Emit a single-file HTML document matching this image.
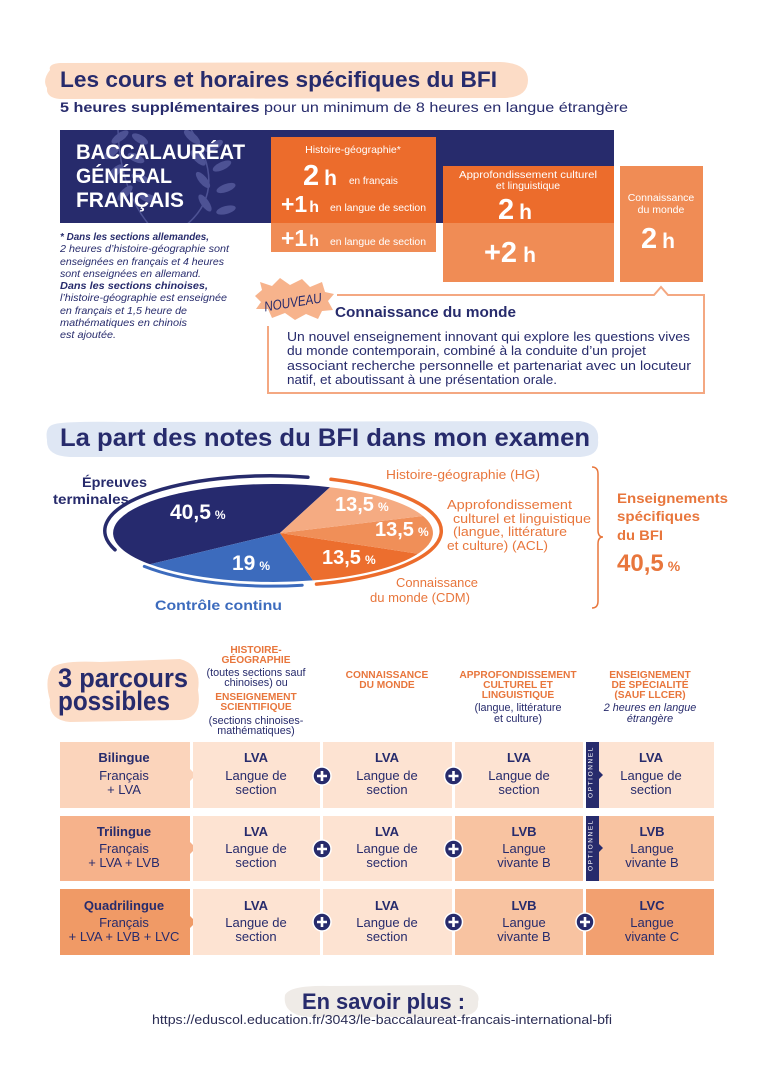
<!DOCTYPE html>
<html><head><meta charset="utf-8"><style>
html,body{margin:0;padding:0;background:#fff;}
svg{display:block;}
text{font-family:"Liberation Sans",sans-serif;}
</style></head><body>
<svg width="764" height="1080" viewBox="0 0 764 1080" xmlns="http://www.w3.org/2000/svg">
<defs>
<clipPath id="band"><rect x="60" y="130" width="554" height="93"/></clipPath>
</defs>
<rect width="764" height="1080" fill="#fff"/>

<!-- SECTION 1 -->
<path d="M50,70 Q48,64 60,63 L500,62 Q528,63 528,80 Q528,97 505,98 L60,99 Q46,98 47,88 Q42,80 50,70 Z" fill="#fcdcc6"/>
<text x="60" y="87" font-size="22" font-weight="bold" fill="#272b6c" textLength="437" lengthAdjust="spacingAndGlyphs">Les cours et horaires spécifiques du BFI</text>
<text x="60" y="112" font-size="14" fill="#272b6c" textLength="568" lengthAdjust="spacingAndGlyphs"><tspan font-weight="bold">5 heures supplémentaires</tspan> pour un minimum de 8 heures en langue étrangère</text>

<rect x="60" y="130" width="554" height="93" fill="#272b6c"/>
<g clip-path="url(#band)" fill="#5a5fa2" opacity="0.75">
<path d="M150,226 Q120,190 118,130" stroke="#5a5fa2" stroke-width="1.5" fill="none"/>
<ellipse cx="120" cy="137" rx="10" ry="4" transform="rotate(-35 120 137)"/>
<ellipse cx="140" cy="139" rx="9" ry="4" transform="rotate(30 140 139)"/>
<ellipse cx="112" cy="152" rx="10" ry="4" transform="rotate(-40 112 152)"/>
<ellipse cx="136" cy="158" rx="9" ry="4" transform="rotate(25 136 158)"/>
<ellipse cx="115" cy="172" rx="10" ry="4" transform="rotate(-45 115 172)"/>
<ellipse cx="140" cy="178" rx="9" ry="4" transform="rotate(20 140 178)"/>
<ellipse cx="125" cy="193" rx="10" ry="4" transform="rotate(-45 125 193)"/>
<ellipse cx="148" cy="198" rx="9" ry="4" transform="rotate(15 148 198)"/>
<path d="M185,226 Q230,190 190,128" stroke="#5a5fa2" stroke-width="1.5" fill="none"/>
<ellipse cx="192" cy="137" rx="10" ry="4" transform="rotate(40 192 137)"/>
<ellipse cx="214" cy="146" rx="10" ry="4" transform="rotate(-30 214 146)"/>
<ellipse cx="198" cy="158" rx="10" ry="4" transform="rotate(45 198 158)"/>
<ellipse cx="222" cy="166" rx="10" ry="4" transform="rotate(-25 222 166)"/>
<ellipse cx="203" cy="180" rx="10" ry="4" transform="rotate(50 203 180)"/>
<ellipse cx="226" cy="188" rx="10" ry="4" transform="rotate(-20 226 188)"/>
<ellipse cx="205" cy="203" rx="10" ry="4" transform="rotate(55 205 203)"/>
<ellipse cx="226" cy="210" rx="10" ry="4" transform="rotate(-15 226 210)"/>
</g>
<text x="76" y="159" font-size="21" font-weight="bold" fill="#fff" textLength="169" lengthAdjust="spacingAndGlyphs">BACCALAURÉAT</text>
<text x="76" y="183" font-size="21" font-weight="bold" fill="#fff" textLength="96" lengthAdjust="spacingAndGlyphs">GÉNÉRAL</text>
<text x="76" y="207" font-size="21" font-weight="bold" fill="#fff" textLength="108" lengthAdjust="spacingAndGlyphs">FRANÇAIS</text>

<!-- footnote -->
<g font-size="10.5" font-style="italic" fill="#272b6c">
<text x="60" y="240" font-weight="bold" textLength="149" lengthAdjust="spacingAndGlyphs">* Dans les sections allemandes,</text>
<text x="60" y="252" textLength="169" lengthAdjust="spacingAndGlyphs">2 heures d’histoire-géographie sont</text>
<text x="60" y="265" textLength="164" lengthAdjust="spacingAndGlyphs">enseignées en français et 4 heures</text>
<text x="60" y="277" textLength="141" lengthAdjust="spacingAndGlyphs">sont enseignées en allemand.</text>
<text x="60" y="289" font-weight="bold" textLength="148" lengthAdjust="spacingAndGlyphs">Dans les sections chinoises,</text>
<text x="60" y="301" textLength="167" lengthAdjust="spacingAndGlyphs">l’histoire-géographie est enseignée</text>
<text x="60" y="314" textLength="127" lengthAdjust="spacingAndGlyphs">en français et 1,5 heure de</text>
<text x="60" y="326" textLength="127" lengthAdjust="spacingAndGlyphs">mathématiques en chinois</text>
<text x="60" y="338" textLength="56" lengthAdjust="spacingAndGlyphs">est ajoutée.</text>
</g>

<!-- HG box -->
<rect x="271" y="137" width="165" height="86" fill="#ec6c2c"/>
<rect x="271" y="223" width="165" height="29" fill="#f08c55"/>
<text x="353" y="153" font-size="10.5" fill="#fff" text-anchor="middle">Histoire-géographie*</text>
<text x="303" y="185" font-weight="bold" fill="#fff"><tspan font-size="29">2</tspan><tspan font-size="21" dx="5">h</tspan></text>
<text x="349" y="184" font-size="10" fill="#fff">en français</text>
<text x="281" y="212" font-weight="bold" fill="#fff"><tspan font-size="23">+1</tspan><tspan font-size="16" dx="2">h</tspan></text>
<text x="330" y="211" font-size="10" fill="#fff" textLength="96" lengthAdjust="spacingAndGlyphs">en langue de section</text>
<text x="281" y="246" font-weight="bold" fill="#fff"><tspan font-size="23">+1</tspan><tspan font-size="16" dx="2">h</tspan></text>
<text x="330" y="245" font-size="10" fill="#fff" textLength="96" lengthAdjust="spacingAndGlyphs">en langue de section</text>

<!-- ACL box -->
<rect x="443" y="166" width="171" height="57" fill="#ec6c2c"/>
<rect x="443" y="223" width="171" height="59" fill="#f08c55"/>
<text x="528" y="178" font-size="10.5" fill="#fff" text-anchor="middle" textLength="138" lengthAdjust="spacingAndGlyphs">Approfondissement culturel</text>
<text x="528" y="189" font-size="10.5" fill="#fff" text-anchor="middle">et linguistique</text>
<text x="498" y="219" font-weight="bold" fill="#fff"><tspan font-size="29">2</tspan><tspan font-size="21" dx="5">h</tspan></text>
<text x="484" y="262" font-weight="bold" fill="#fff"><tspan font-size="29">+2</tspan><tspan font-size="21" dx="6">h</tspan></text>

<!-- CDM box -->
<rect x="620" y="166" width="83" height="116" fill="#f08c55"/>
<text x="661" y="201" font-size="10.5" fill="#fff" text-anchor="middle">Connaissance</text>
<text x="661" y="213" font-size="10.5" fill="#fff" text-anchor="middle">du monde</text>
<text x="641" y="248" font-weight="bold" fill="#fff"><tspan font-size="29">2</tspan><tspan font-size="21" dx="5">h</tspan></text>

<!-- callout -->
<path d="M337,295 L654,295 L661,287 L668,295 L704,295 L704,393 L268,393 L268,326" fill="none" stroke="#f4a882" stroke-width="2"/>
<path d="M255,296 L262,290 L260,282 L272,286 L280,278 L290,285 L302,279 L310,287 L322,282 L325,292 L334,294 L328,301 L333,310 L322,311 L318,319 L306,314 L295,320 L285,313 L272,318 L268,309 L256,309 L261,302 Z" fill="#f7b38c"/>
<text x="293" y="307" font-size="14" font-style="italic" fill="#272b6c" text-anchor="middle" textLength="58" lengthAdjust="spacingAndGlyphs" transform="rotate(-9 293 303)">NOUVEAU</text>
<text x="335" y="317" font-size="14.5" font-weight="bold" fill="#272b6c" textLength="181" lengthAdjust="spacingAndGlyphs">Connaissance du monde</text>
<g font-size="13" fill="#272b6c">
<text x="287" y="341" textLength="403" lengthAdjust="spacingAndGlyphs">Un nouvel enseignement innovant qui explore les questions vives</text>
<text x="287" y="355" textLength="359" lengthAdjust="spacingAndGlyphs">du monde contemporain, combiné à la conduite d’un projet</text>
<text x="287" y="370" textLength="404" lengthAdjust="spacingAndGlyphs">associant recherche personnelle et partenariat avec un locuteur</text>
<text x="287" y="384" textLength="270" lengthAdjust="spacingAndGlyphs">natif, et aboutissant à une présentation orale.</text>
</g>

<!-- SECTION 2 -->
<path d="M52,425 Q60,421 120,422 L580,421 Q600,424 598,440 Q600,456 580,457 L70,457 Q46,456 47,440 Q45,428 52,425 Z" fill="#dfe7f4"/>
<text x="60" y="446" font-size="25" font-weight="bold" fill="#272b6c" textLength="530" lengthAdjust="spacingAndGlyphs">La part des notes du BFI dans mon examen</text>

<text x="82" y="487" font-size="14" font-weight="bold" fill="#272b6c" textLength="65" lengthAdjust="spacingAndGlyphs">Épreuves</text>
<text x="53" y="504" font-size="14" font-weight="bold" fill="#272b6c" textLength="76" lengthAdjust="spacingAndGlyphs">terminales</text>

<!-- outer arcs -->
<path d="M115,549.8 A166,55 0 0 1 307.9,477.2" fill="none" stroke="#272b6c" stroke-width="3.5" stroke-linecap="round"/>
<path d="M331,479.3 A168,55 0 0 1 316.5,584.1" fill="none" stroke="#ec6c2c" stroke-width="3.5" stroke-linecap="round"/>
<path d="M144.3,566.4 A166,55 0 0 0 302.2,585.2" fill="none" stroke="#3c6bbd" stroke-width="3" stroke-linecap="round"/>

<!-- pie -->
<path d="M280,533 L330,487.2 A160,49 0 0 0 150,564.3 Z" fill="#262a6e"/>
<path d="M280,533 L150,564.3 A160,49 0 0 0 313,580.4 Z" fill="#3c6bbd"/>
<path d="M280,533 L313,580.4 A160,49 0 0 0 418,553.7 Z" fill="#ec6e2e"/>
<path d="M280,533 L418,553.7 A160,49 0 0 0 423,516 Z" fill="#f08f58"/>
<path d="M280,533 L423,516 A160,49 0 0 0 330,487.2 Z" fill="#f5ab82"/>

<g font-weight="bold" fill="#fff">
<text x="170" y="519"><tspan font-size="21">40,5</tspan><tspan font-size="12" dx="4">%</tspan></text>
<text x="232" y="570"><tspan font-size="21">19</tspan><tspan font-size="12" dx="4">%</tspan></text>
<text x="335" y="511"><tspan font-size="20">13,5</tspan><tspan font-size="12" dx="4">%</tspan></text>
<text x="375" y="536"><tspan font-size="20">13,5</tspan><tspan font-size="12" dx="4">%</tspan></text>
<text x="322" y="564"><tspan font-size="20">13,5</tspan><tspan font-size="12" dx="4">%</tspan></text>
</g>
<text x="155" y="610" font-size="14" font-weight="bold" fill="#3c6bbd" textLength="127" lengthAdjust="spacingAndGlyphs">Contrôle continu</text>

<g font-size="12.5" fill="#e8763c">
<text x="386" y="479" textLength="154" lengthAdjust="spacingAndGlyphs">Histoire-géographie (HG)</text>
<text x="447" y="509" textLength="125" lengthAdjust="spacingAndGlyphs">Approfondissement</text>
<text x="453" y="523" textLength="138" lengthAdjust="spacingAndGlyphs">culturel et linguistique</text>
<text x="453" y="536" textLength="114" lengthAdjust="spacingAndGlyphs">(langue, littérature</text>
<text x="447" y="550" textLength="101" lengthAdjust="spacingAndGlyphs">et culture) (ACL)</text>
<text x="396" y="587" textLength="82" lengthAdjust="spacingAndGlyphs">Connaissance</text>
<text x="370" y="602" textLength="100" lengthAdjust="spacingAndGlyphs">du monde (CDM)</text>
</g>
<path d="M592,467 Q598,467 598,474 L598,530 Q598,537 603,537 Q598,537 598,544 L598,601 Q598,608 592,608" fill="none" stroke="#e8763c" stroke-width="1.5"/>
<g font-weight="bold" fill="#e8763c">
<text x="617" y="503" font-size="14" textLength="111" lengthAdjust="spacingAndGlyphs">Enseignements</text>
<text x="617" y="521" font-size="14" textLength="83" lengthAdjust="spacingAndGlyphs">spécifiques</text>
<text x="617" y="540" font-size="14" textLength="46" lengthAdjust="spacingAndGlyphs">du BFI</text>
<text x="617" y="571"><tspan font-size="24">40,5</tspan><tspan font-size="14" dx="4">%</tspan></text>
</g>

<!-- SECTION 3 -->
<path d="M52,668 Q60,660 100,662 L180,659 Q202,665 198,690 Q203,718 180,720 L70,722 Q48,720 50,700 Q44,680 52,668 Z" fill="#fcdcc6"/>
<text x="58" y="687" font-size="27" font-weight="bold" fill="#272b6c" textLength="130" lengthAdjust="spacingAndGlyphs">3 parcours</text>
<text x="58" y="710" font-size="27" font-weight="bold" fill="#272b6c" textLength="112" lengthAdjust="spacingAndGlyphs">possibles</text>

<g text-anchor="middle">
<g font-size="10.2" font-weight="bold" fill="#e8763c">
<text x="256" y="653">HISTOIRE-</text>
<text x="256" y="663">GÉOGRAPHIE</text>
<text x="256" y="700">ENSEIGNEMENT</text>
<text x="256" y="710">SCIENTIFIQUE</text>
<text x="387" y="678">CONNAISSANCE</text>
<text x="387" y="688">DU MONDE</text>
<text x="518" y="678">APPROFONDISSEMENT</text>
<text x="518" y="688">CULTUREL ET</text>
<text x="518" y="698">LINGUISTIQUE</text>
<text x="650" y="678">ENSEIGNEMENT</text>
<text x="650" y="688">DE SPÉCIALITÉ</text>
<text x="650" y="698">(SAUF LLCER)</text>
</g>
<g font-size="10.8" fill="#272b6c">
<text x="256" y="676">(toutes sections sauf</text>
<text x="256" y="686">chinoises) ou</text>
<text x="256" y="724">(sections chinoises-</text>
<text x="256" y="734">mathématiques)</text>
<text x="518" y="711">(langue, littérature</text>
<text x="518" y="722">et culture)</text>
<text x="650" y="711" font-style="italic">2 heures en langue</text>
<text x="650" y="722" font-style="italic">étrangère</text>
</g>
</g>

<!-- Row 1 -->
<rect x="60" y="742" width="130" height="66" fill="#fbd4bb"/>
<path d="M190,769 L196,775 L190,781 Z" fill="#fbd4bb"/>
<rect x="193" y="742" width="127" height="66" fill="#fde3d2"/>
<rect x="323" y="742" width="129" height="66" fill="#fde3d2"/>
<rect x="455" y="742" width="128" height="66" fill="#fde3d2"/>
<rect x="599" y="742" width="115" height="66" fill="#fde3d2"/>
<rect x="586" y="742" width="13" height="66" fill="#272b6c"/>
<path d="M599,771 L603,775 L599,779 Z" fill="#272b6c"/>
<text x="595.5" y="775" font-size="6.5" fill="#fff" text-anchor="middle" letter-spacing="1.6" transform="rotate(-90 592.5 775)">OPTIONNEL</text>

<!-- Row 2 -->
<rect x="60" y="816" width="130" height="65" fill="#f6b28b"/>
<path d="M190,842 L196,848 L190,854 Z" fill="#f6b28b"/>
<rect x="193" y="816" width="127" height="65" fill="#fde3d2"/>
<rect x="323" y="816" width="129" height="65" fill="#fde3d2"/>
<rect x="455" y="816" width="128" height="65" fill="#f8c3a1"/>
<rect x="599" y="816" width="115" height="65" fill="#f8c3a1"/>
<rect x="586" y="816" width="13" height="65" fill="#272b6c"/>
<path d="M599,844 L603,848 L599,852 Z" fill="#272b6c"/>
<text x="595.5" y="848" font-size="6.5" fill="#fff" text-anchor="middle" letter-spacing="1.6" transform="rotate(-90 592.5 848)">OPTIONNEL</text>

<!-- Row 3 -->
<rect x="60" y="889" width="130" height="66" fill="#f09a66"/>
<path d="M190,916 L196,922 L190,928 Z" fill="#f09a66"/>
<rect x="193" y="889" width="127" height="66" fill="#fde3d2"/>
<rect x="323" y="889" width="129" height="66" fill="#fde3d2"/>
<rect x="455" y="889" width="128" height="66" fill="#f8c3a1"/>
<rect x="586" y="889" width="128" height="66" fill="#f2a070"/>

<!-- cell texts -->
<g font-size="13" fill="#272b6c" text-anchor="middle">
<text x="124" y="762" font-weight="bold">Bilingue</text>
<text x="124" y="780">Français</text>
<text x="124" y="794">+ LVA</text>
<text x="256" y="762" font-weight="bold">LVA</text>
<text x="256" y="780">Langue de</text>
<text x="256" y="794">section</text>
<text x="387" y="762" font-weight="bold">LVA</text>
<text x="387" y="780">Langue de</text>
<text x="387" y="794">section</text>
<text x="519" y="762" font-weight="bold">LVA</text>
<text x="519" y="780">Langue de</text>
<text x="519" y="794">section</text>
<text x="651" y="762" font-weight="bold">LVA</text>
<text x="651" y="780">Langue de</text>
<text x="651" y="794">section</text>

<text x="124" y="836" font-weight="bold">Trilingue</text>
<text x="124" y="853">Français</text>
<text x="124" y="867">+ LVA + LVB</text>
<text x="256" y="836" font-weight="bold">LVA</text>
<text x="256" y="853">Langue de</text>
<text x="256" y="867">section</text>
<text x="387" y="836" font-weight="bold">LVA</text>
<text x="387" y="853">Langue de</text>
<text x="387" y="867">section</text>
<text x="524" y="836" font-weight="bold">LVB</text>
<text x="524" y="853">Langue</text>
<text x="524" y="867">vivante B</text>
<text x="652" y="836" font-weight="bold">LVB</text>
<text x="652" y="853">Langue</text>
<text x="652" y="867">vivante B</text>

<text x="124" y="910" font-weight="bold">Quadrilingue</text>
<text x="124" y="927">Français</text>
<text x="124" y="941">+ LVA + LVB + LVC</text>
<text x="256" y="910" font-weight="bold">LVA</text>
<text x="256" y="927">Langue de</text>
<text x="256" y="941">section</text>
<text x="387" y="910" font-weight="bold">LVA</text>
<text x="387" y="927">Langue de</text>
<text x="387" y="941">section</text>
<text x="524" y="910" font-weight="bold">LVB</text>
<text x="524" y="927">Langue</text>
<text x="524" y="941">vivante B</text>
<text x="652" y="910" font-weight="bold">LVC</text>
<text x="652" y="927">Langue</text>
<text x="652" y="941">vivante C</text>
</g>

<!-- plus circles -->
<g fill="#272b6c" stroke="#fff" stroke-width="1.5">
<circle cx="322" cy="776" r="9"/><circle cx="453.5" cy="776" r="9"/>
<circle cx="322" cy="849" r="9"/><circle cx="453.5" cy="849" r="9"/>
<circle cx="322" cy="922" r="9"/><circle cx="453.5" cy="922" r="9"/>
<circle cx="585" cy="922" r="9"/>
</g>
<g stroke="#fff" stroke-width="2.6">
<path d="M317,776 H327 M322,771 V781"/><path d="M448.5,776 H458.5 M453.5,771 V781"/>
<path d="M317,849 H327 M322,844 V854"/><path d="M448.5,849 H458.5 M453.5,844 V854"/>
<path d="M317,922 H327 M322,917 V927"/><path d="M448.5,922 H458.5 M453.5,917 V927"/>
<path d="M580,922 H590 M585,917 V927"/>
</g>

<!-- SECTION 4 -->
<path d="M285,995 Q290,985 330,986 L460,985 Q482,990 478,1002 Q480,1016 455,1017 L310,1017 Q282,1015 285,995 Z" fill="#efebe7"/>
<text x="302" y="1009" font-size="22" font-weight="bold" fill="#272b6c" textLength="163" lengthAdjust="spacingAndGlyphs">En savoir plus :</text>
<text x="152" y="1024" font-size="12.5" fill="#2b2d55" textLength="460" lengthAdjust="spacingAndGlyphs">https://eduscol.education.fr/3043/le-baccalaureat-francais-international-bfi</text>
</svg>
</body></html>
